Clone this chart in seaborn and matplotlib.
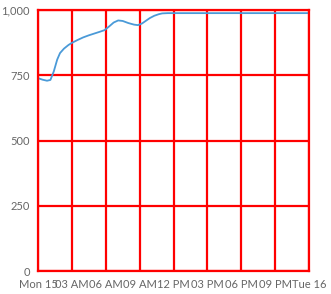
import matplotlib
matplotlib.use("Agg")
import matplotlib.pyplot as plt
import seaborn as sns
import pandas as pd

hours = [0, 0.4, 0.8, 1.1, 1.4, 1.7, 1.95, 2.3, 2.7, 3.0, 3.5, 4.0, 4.5, 5.0, 5.5, 5.9, 6.3, 6.7, 7.1, 7.5, 8.0, 8.5, 8.85, 9.2, 9.6, 9.9, 10.3, 10.7, 11.0, 11.5, 12, 15, 18, 21, 24]
values = [739, 733, 729, 732, 765, 810, 835, 852, 866, 874, 885, 895, 903, 910, 917, 923, 937, 952, 960, 958, 950, 944, 942, 948, 960, 969, 978, 984, 987, 988, 988, 988, 988, 988, 988]
tick_hours = [0, 3, 6, 9, 12, 15, 18, 21, 24]
tick_labels = ["Mon 15", "03 AM", "06 AM", "09 AM", "12 PM", "03 PM", "06 PM", "09 PM", "Tue 16"]
y_ticks = [0, 250, 500, 750, 1000]
y_labels = ["0", "250", "500", "750", "1,000"]

df = pd.DataFrame({"hour": hours, "value": values})

sns.set_style("white")
plt.rcParams["font.family"] = ["Lato", "DejaVu Sans"]

fig = plt.figure(figsize=(3.31, 2.94), dpi=100)
ax = fig.add_axes([38/331, 1 - 271/294, 271/331, 261/294])
sns.lineplot(data=df, x="hour", y="value", ax=ax, color="#4a9ad8", linewidth=1.3)

ax.set_xlim(0, 24)
ax.set_ylim(0, 1000)
ax.set_xticks(tick_hours)
ax.set_xticklabels(tick_labels)
ax.set_yticks(y_ticks)
ax.set_yticklabels(y_labels)
ax.set_xlabel("")
ax.set_ylabel("")
ax.grid(True, color="#ff0000", linewidth=1.6)
ax.set_axisbelow(True)
for s in ax.spines.values():
    s.set_color("#ff0000")
    s.set_linewidth(1.6)
ax.tick_params(axis="x", colors="#ff0000", length=4, width=1.6, labelcolor="#666666", labelsize=8.0, pad=2)
ax.tick_params(axis="y", length=0, labelcolor="#666666", labelsize=8.0, pad=6)

fig.savefig("out.png", dpi=100)
